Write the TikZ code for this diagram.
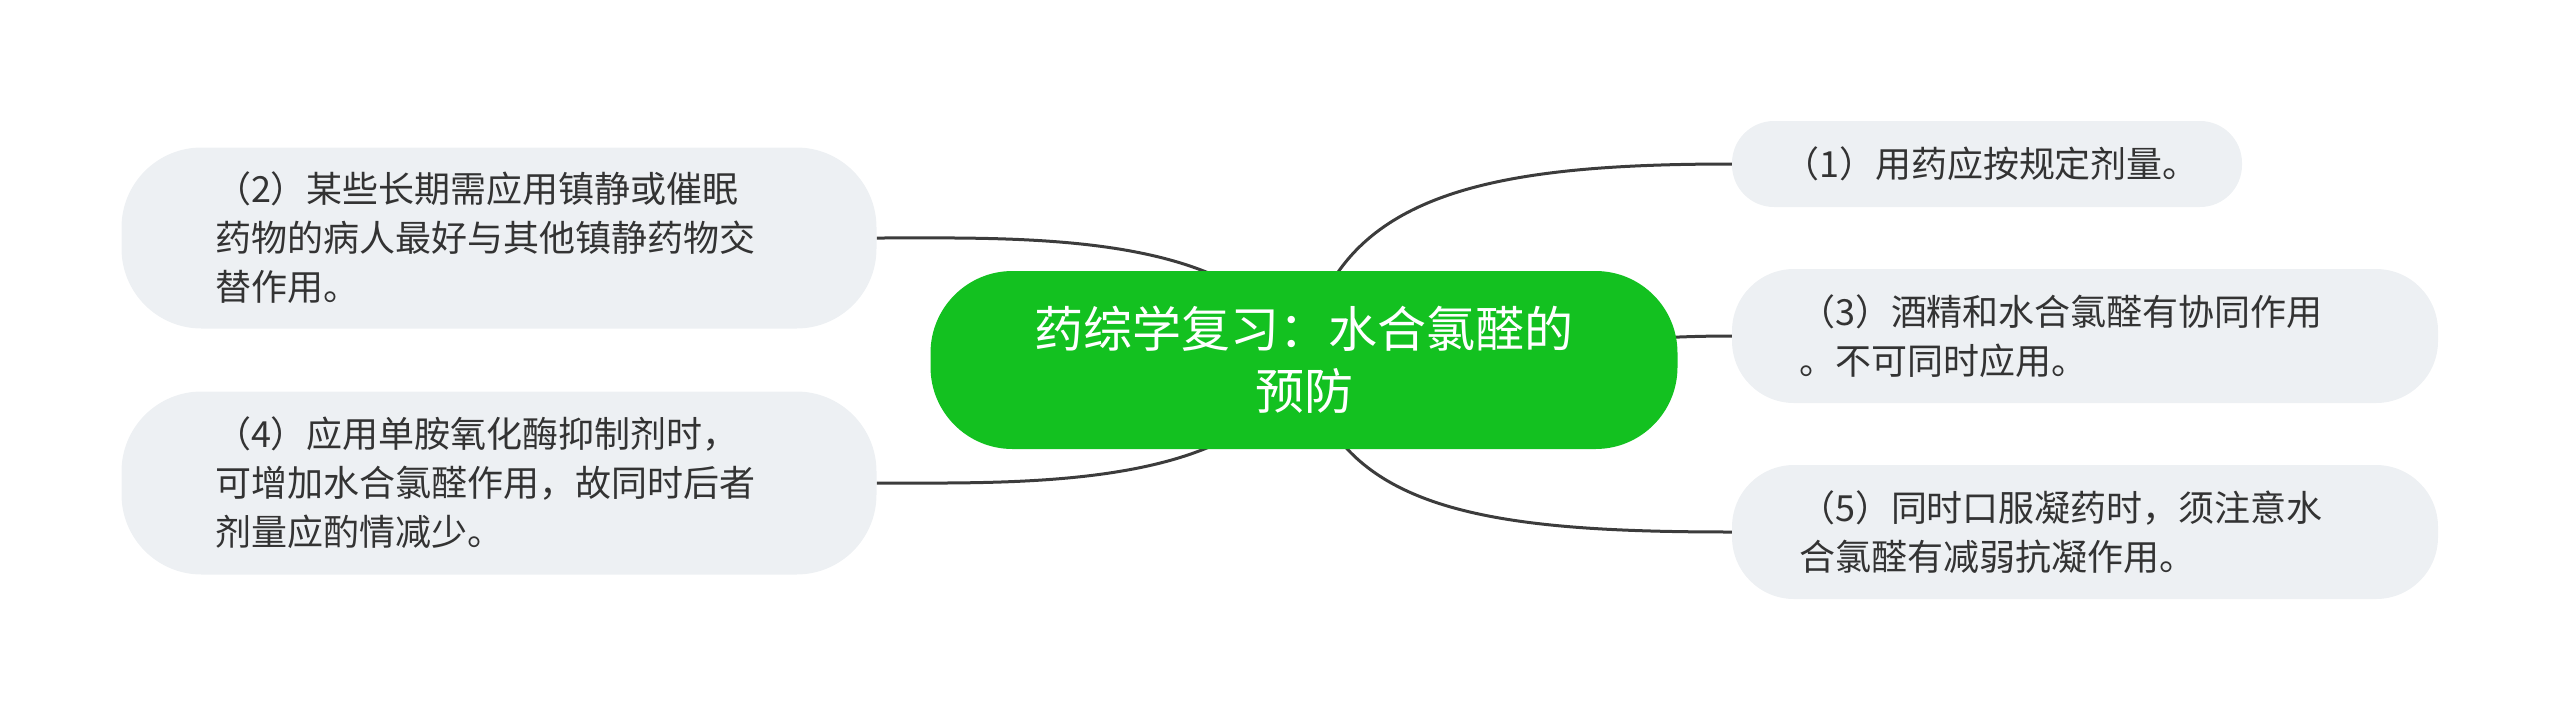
\documentclass[tikz,border=0pt]{standalone}
\usepackage{fontspec}
\newfontfamily\cjk{Noto Sans CJK SC}
\usetikzlibrary{backgrounds}
\definecolor{topicgreen}{HTML}{13C120}
\definecolor{boxgray}{HTML}{EDF0F3}
\definecolor{inkgray}{HTML}{333333}
\definecolor{linegray}{HTML}{3C3C3C}

\begin{document}
\begin{tikzpicture}[x=1pt,y=-1pt,
  topic/.style={fill=topicgreen,text=white,inner sep=0pt,align=center,
    font=\cjk\fontsize{49}{62}\selectfont},
  sub/.style={fill=boxgray,text=inkgray,inner sep=0pt,align=left,
    font=\cjk\fontsize{36}{49}\selectfont},
  link/.style={draw=linegray,line width=3pt}]
\useasboundingbox (0,0) rectangle (2560,721);

\node[topic,minimum width=747,minimum height=178,rounded corners=82] (root) at (1304,360)
  {药综学复习：水合氯醛的\\预防};

\node[sub,text width=408,minimum width=510,minimum height=86,rounded corners=42] (n1) at (1987,164)
  {（1）用药应按规定剂量。};
\node[sub,text width=568,minimum width=755,minimum height=181,rounded corners=80] (n2) at (499,238)
  {（2）某些长期需应用镇静或催眠\\药物的病人最好与其他镇静药物交\\替作用。};
\node[sub,text width=572,minimum width=706,minimum height=134,rounded corners=62] (n3) at (2085,336)
  {（3）酒精和水合氯醛有协同作用\\。不可同时应用。};
\node[sub,text width=568,minimum width=755,minimum height=183,rounded corners=80] (n4) at (499,483)
  {（4）应用单胺氧化酶抑制剂时，\\可增加水合氯醛作用，故同时后者\\剂量应酌情减少。};
\node[sub,text width=572,minimum width=706,minimum height=134,rounded corners=62] (n5) at (2085,532)
  {（5）同时口服凝药时，须注意水\\合氯醛有减弱抗凝作用。};

\begin{pgfonlayer}{background}
\draw[link] (root.center) .. controls +(28,-165) and +(-250,0) .. (n1.west);
\draw[link] (root.center) .. controls +(-54,-130) and +(150,0) .. (n2.east);
\draw[link] (root.center) .. controls +(200,0) and +(-150,0) .. (n3.west);
\draw[link] (root.center) .. controls +(-54,130) and +(150,0) .. (n4.east);
\draw[link] (root.center) .. controls +(30,150) and +(-250,0) .. (n5.west);
\end{pgfonlayer}
\end{tikzpicture}
\end{document}
